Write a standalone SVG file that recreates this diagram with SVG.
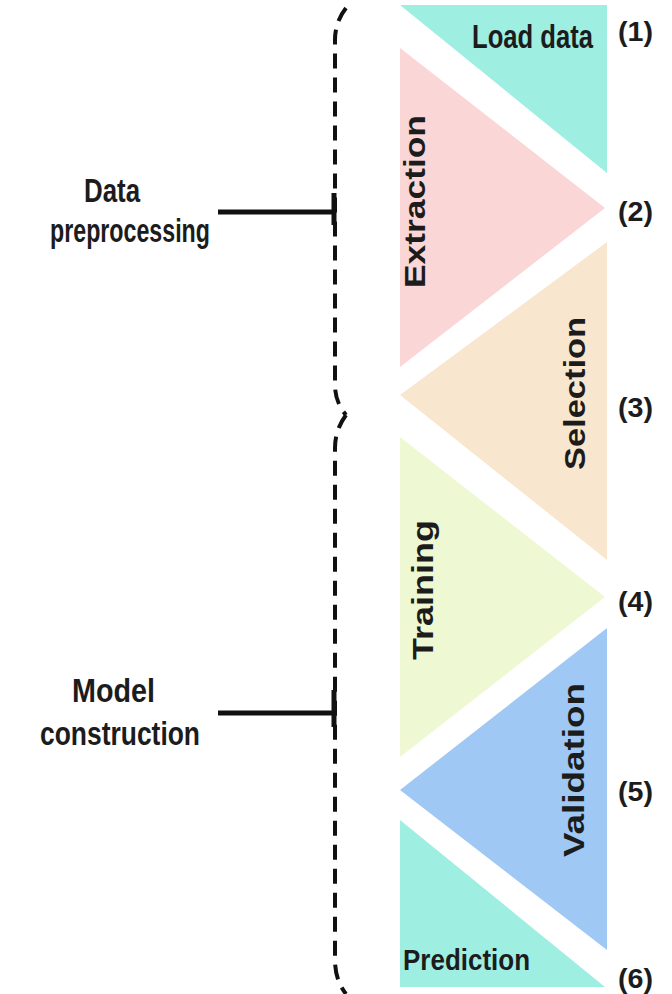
<svg xmlns="http://www.w3.org/2000/svg" width="672" height="994" viewBox="0 0 672 994">
<style>
.t{font-family:"Liberation Sans",Arial,sans-serif;font-weight:bold;fill:#1c1c1c}
.n{font-size:28px}
.h{font-size:25px}
.v{font-size:30px}
.brace{fill:none;stroke:#111;stroke-width:4;stroke-dasharray:15 9;stroke-linecap:butt}
.solid{fill:none;stroke:#111;stroke-width:5}
</style>
<rect width="672" height="994" fill="#ffffff"/>
<g id="load-data">
<polygon points="400,5 607,5 607,173" fill="#9eeee2"/>
<text class="t h" transform="translate(472,48) scale(1,1.3)" textLength="121" lengthAdjust="spacingAndGlyphs" fill="#0e2a2a">Load data</text>
</g>
<g id="extraction">
<polygon points="400,48 605,208 400,367" fill="#fbd6d6"/>
<text class="t v" transform="translate(425,288) rotate(-90)" textLength="173" lengthAdjust="spacingAndGlyphs">Extraction</text>
</g>
<g id="selection">
<polygon points="607,242 400,395 607,560" fill="#f9e6cf"/>
<text class="t v" transform="translate(585,470) rotate(-90)" textLength="153" lengthAdjust="spacingAndGlyphs">Selection</text>
</g>
<g id="training">
<polygon points="400,437 605,597 400,757" fill="#eef8d3"/>
<text class="t v" transform="translate(433,660) rotate(-90)" textLength="140" lengthAdjust="spacingAndGlyphs">Training</text>
</g>
<g id="validation">
<polygon points="607,628 400,790 607,950" fill="#9fc8f4"/>
<text class="t v" transform="translate(584,857) rotate(-90)" textLength="174" lengthAdjust="spacingAndGlyphs">Validation</text>
</g>
<g id="prediction">
<polygon points="400,820 400,987 605,987" fill="#9eeee2"/>
<text class="t" font-size="25" transform="translate(403,970) scale(1,1.15)" textLength="127" lengthAdjust="spacingAndGlyphs" fill="#0e2a2a">Prediction</text>
</g>
<g id="step-numbers">
<text class="t n" x="618" y="41" textLength="35" lengthAdjust="spacingAndGlyphs">(1)</text>
<text class="t n" x="618" y="221" textLength="35" lengthAdjust="spacingAndGlyphs">(2)</text>
<text class="t n" x="618" y="417" textLength="35" lengthAdjust="spacingAndGlyphs">(3)</text>
<text class="t n" x="618" y="611" textLength="35" lengthAdjust="spacingAndGlyphs">(4)</text>
<text class="t n" x="618" y="801" textLength="35" lengthAdjust="spacingAndGlyphs">(5)</text>
<text class="t n" x="618" y="988" textLength="35" lengthAdjust="spacingAndGlyphs">(6)</text>
</g>
<g id="data-preprocessing">
<text class="t h" transform="translate(84,202) scale(1,1.3)" textLength="56" lengthAdjust="spacingAndGlyphs">Data</text>
<text class="t h" transform="translate(50,242) scale(1,1.3)" textLength="160" lengthAdjust="spacingAndGlyphs">preprocessing</text>
</g>
<g id="model-construction">
<text class="t h" transform="translate(72,702) scale(1,1.35)" textLength="83" lengthAdjust="spacingAndGlyphs">Model</text>
<text class="t h" transform="translate(40,745) scale(1,1.35)" textLength="160" lengthAdjust="spacingAndGlyphs">construction</text>
</g>
<g id="connectors">
<path class="brace" d="M346,8 Q335,22 335,40 L335,385 Q335,402 346,415"/>
<path class="brace" d="M346,415 Q335,430 335,448 L335,960 Q335,980 346,994"/>
<line class="solid" x1="218" y1="212" x2="335" y2="212"/>
<line class="solid" x1="334" y1="193" x2="334" y2="225"/>
<line class="solid" x1="218" y1="713" x2="335" y2="713"/>
<line class="solid" x1="334" y1="690" x2="334" y2="727"/>
</g>
</svg>
